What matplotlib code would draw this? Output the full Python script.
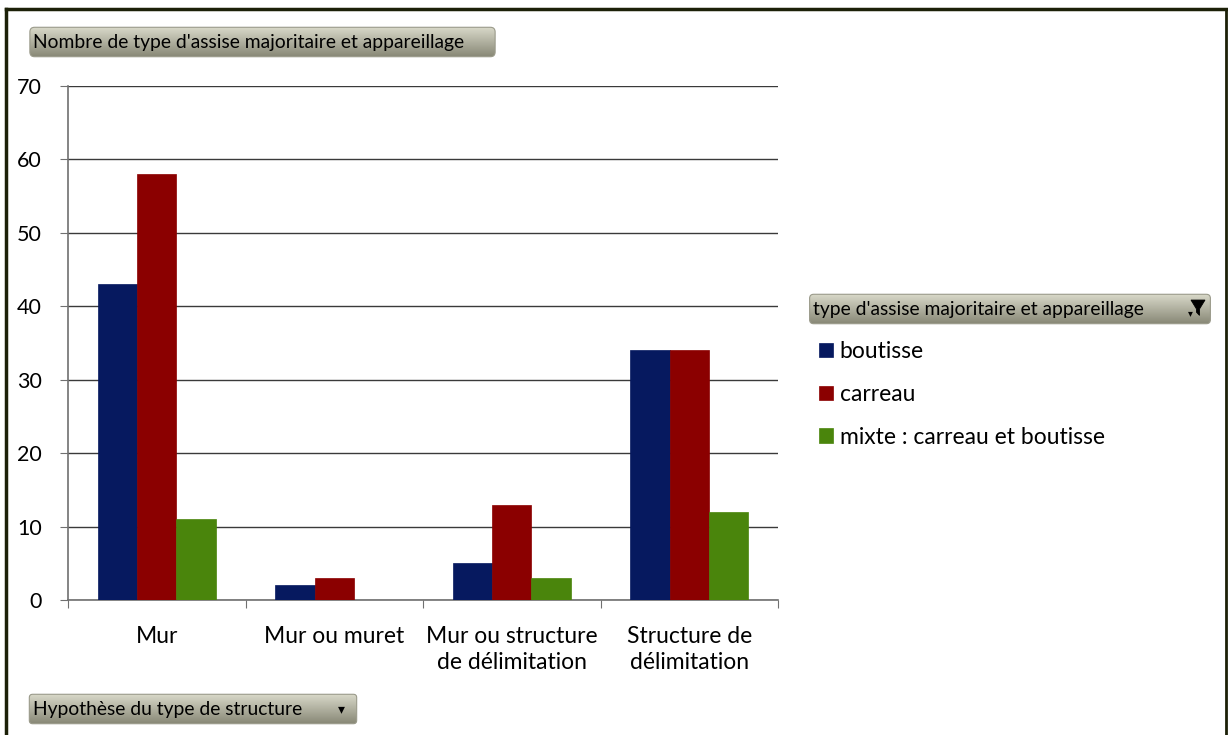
import matplotlib
matplotlib.use("Agg")
import matplotlib.pyplot as plt
import numpy as np
from matplotlib.patches import FancyBboxPatch, Polygon
from matplotlib.lines import Line2D

categories = ["Mur", "Mur ou muret", "Mur ou structure\nde délimitation", "Structure de\ndélimitation"]
series_names = ["boutisse", "carreau", "mixte : carreau et boutisse"]
boutisse = [43, 2, 5, 34]
carreau = [58, 3, 13, 34]
mixte = [11, 0, 3, 12]
yticks = [0, 10, 20, 30, 40, 50, 60, 70]

colors = ["#06195f", "#8b0000", "#4a850c"]

W, H = 1228, 735
fig = plt.figure(figsize=(W / 100, H / 100), dpi=100)
fig.patch.set_facecolor("white")


def px(x0, y0, x1, y1):
    # pixel box (top-left origin) -> figure fraction rect
    return [x0 / W, 1 - y1 / H, (x1 - x0) / W, (y1 - y0) / H]


BTN_FONT = ["Lato", "DejaVu Sans"]
LBL_FONT = ["Lato", "DejaVu Sans"]


def button(x0, y0, x1, y1, text, fontsize=13.9, marker=None):
    bax = fig.add_axes(px(x0, y0, x1, y1))
    bax.set_axis_off()
    bax.set_xlim(0, 1)
    bax.set_ylim(0, 1)
    grad = np.linspace(1, 0, 64).reshape(-1, 1)
    top = np.array([0.86, 0.86, 0.80])
    bot = np.array([0.52, 0.52, 0.45])
    img = top * grad[..., None] + bot * (1 - grad[..., None])
    im = bax.imshow(img, extent=[0, 1, 0, 1], aspect="auto", origin="upper")
    patch = FancyBboxPatch((0.004, 0.04), 0.992, 0.92,
                           boxstyle="round,pad=0,rounding_size=0.01",
                           transform=bax.transAxes, fc="none",
                           ec="#9a9a8a", lw=0.8, mutation_aspect=(x1 - x0) / (y1 - y0))
    bax.add_patch(patch)
    im.set_clip_path(patch)
    bax.text(5 / (x1 - x0), 0.47, text, fontsize=fontsize, family=BTN_FONT,
             va="center", ha="left", color="black")
    if marker == "down":
        bax.text(1 - 17 / (x1 - x0), 0.5, "▾", fontsize=10, va="center",
                 ha="center", color="black", family=["DejaVu Sans"])
    elif marker == "filter":
        w = x1 - x0
        fx = 1 - 14 / w
        funnel = Polygon([[fx - 7 / w, 0.78], [fx + 7 / w, 0.78], [fx + 1.5 / w, 0.5],
                          [fx + 1.5 / w, 0.3], [fx - 1.5 / w, 0.4], [fx - 1.5 / w, 0.5]],
                         closed=True, fc="black", ec="black", lw=0.6,
                         transform=bax.transAxes)
        bax.add_patch(funnel)
        bax.text(fx - 8 / w, 0.38, "▾", fontsize=7, va="center",
                 ha="center", color="black", family=["DejaVu Sans"])
    return bax


ax = fig.add_axes(px(68, 86, 778, 600))
x = np.arange(len(categories))
bw = 1 / 4.5
for i, (vals, name) in enumerate(zip([boutisse, carreau, mixte], series_names)):
    ax.bar(x + (i - 1) * bw, vals, width=bw, color=colors[i], label=name,
           zorder=3, edgecolor=colors[i], linewidth=0.5)

ax.set_xlim(-0.5, len(categories) - 0.5)
ax.set_ylim(0, 70)
ax.set_yticks(yticks)
ax.set_yticklabels([str(v) for v in yticks], fontsize=15.5, family=LBL_FONT)
ax.yaxis.grid(True, color="#3a3a3a", linewidth=1.0, zorder=0)
ax.set_axisbelow(True)

ax.set_xticks(np.arange(len(categories) + 1) - 0.5)
ax.set_xticklabels([])
ax.set_xticks(x, minor=True)
ax.set_xticklabels(categories, minor=True, fontsize=16.5, family=LBL_FONT,
                   linespacing=1.3)
ax.tick_params(axis="x", which="minor", length=0, pad=19)
ax.tick_params(axis="x", which="major", length=6, direction="out", color="#707070")
ax.tick_params(axis="y", length=6, direction="out", color="#707070", pad=13)
for s in ["top", "right"]:
    ax.spines[s].set_visible(False)
for s in ["left", "bottom"]:
    ax.spines[s].set_color("#707070")
    ax.spines[s].set_linewidth(1.2)

button(28, 26, 497, 58, "Nombre de type d'assise majoritaire et appareillage")
button(808, 293, 1212, 325, "type d'assise majoritaire et appareillage", marker="filter")
button(28, 693, 358, 725, "Hypothèse du type de structure", marker="down")

handles, labels = ax.get_legend_handles_labels()
leg = fig.legend(handles, labels, loc="upper left",
                 bbox_to_anchor=(810 / W, 1 - 332 / H),
                 frameon=False, prop={"family": LBL_FONT, "size": 16.5},
                 handlelength=0.6, handleheight=0.6, handletextpad=0.3,
                 labelspacing=0.95, borderaxespad=0)

# outer frame
fig.add_artist(Line2D([6 / W, 6 / W], [0, 1 - 9 / H], transform=fig.transFigure,
                      color="#1c2008", lw=2.5))
fig.add_artist(Line2D([6 / W, 1226 / W], [1 - 9 / H, 1 - 9 / H], transform=fig.transFigure,
                      color="#1c2008", lw=2.5))
fig.add_artist(Line2D([1226 / W, 1226 / W], [0, 1 - 9 / H], transform=fig.transFigure,
                      color="#1c2008", lw=2.0))

fig.savefig("out.png", dpi=100)
